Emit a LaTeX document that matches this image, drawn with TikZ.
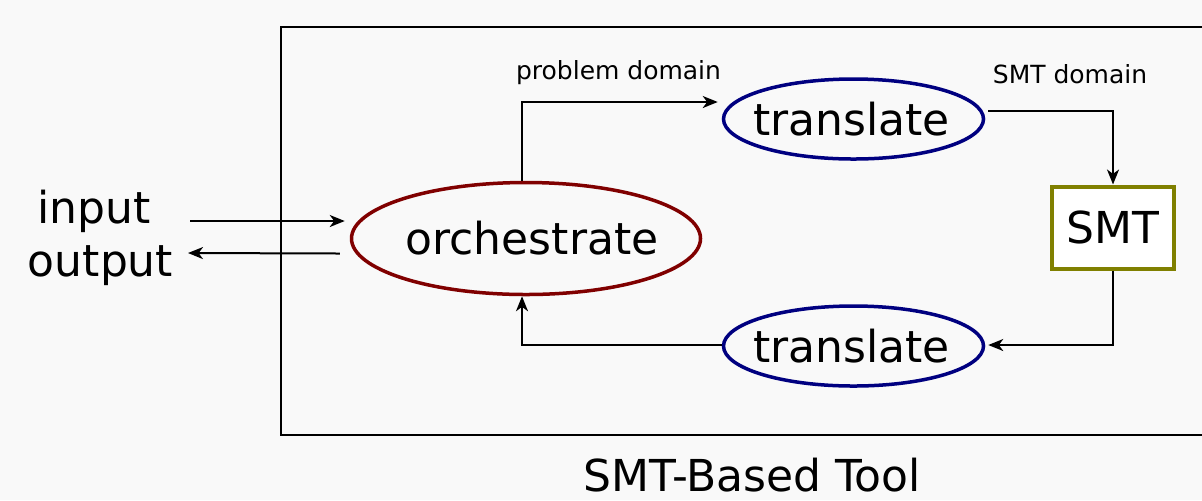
\documentclass[tikz,border=0pt]{standalone}
\usepackage{fontspec}
\setmainfont{DejaVu Sans}
\usetikzlibrary{arrows.meta,calc,shapes.geometric}
\definecolor{bg}{HTML}{F9F9F9}
\definecolor{dred}{HTML}{800000}
\definecolor{navy}{HTML}{000080}
\definecolor{olivec}{HTML}{808000}
\tikzset{
  big/.style={font=\fontsize{22}{26}\selectfont},
  small/.style={font=\fontsize{12.5}{15}\selectfont},
  ell/.style={ellipse, draw, line width=1.75pt, inner sep=0pt, big},
  arr/.style={line width=1pt, -{Stealth[length=7.5pt,width=6pt,inset=2.2pt]}},
}
\begin{document}
\begin{tikzpicture}[x=0.5pt,y=-0.5pt]
\useasboundingbox (0,0) rectangle (1202,500);
\fill[bg] (0,0) rectangle (1202,500);
\clip (0,0) rectangle (1202,500);
\draw[line width=1pt] (281,27) rectangle (1230,435);
\node[ell, dred, minimum width=174.5pt, minimum height=56pt, text=black] (o) at (526,238.5) {\makebox[0pt]{\hspace*{6pt}orchestrate}};
\node[ell, navy, minimum width=130pt, minimum height=40pt, text=black] (t1) at (853.5,119) {\makebox[0pt]{\hspace*{-2pt}translate}};
\node[ell, navy, minimum width=130pt, minimum height=40pt, text=black] (t2) at (853.5,346) {\makebox[0pt]{\hspace*{-2pt}translate}};
\node[draw=olivec, fill=white, line width=2pt, minimum width=61pt, minimum height=41pt, inner sep=0pt, big] (s) at (1113,227.5) {SMT};
\node[big, anchor=base] (in) at (94,223) {input};
\node[big, anchor=base] (out) at (100.5,276) {output};
\node[big, anchor=base, inner sep=0pt] (title) at (752,491) {SMT-Based Tool};
\node[small, anchor=base] (pd) at (618.5,79) {problem domain};
\node[small, anchor=base] (sd) at (1070,83) {SMT domain};
\coordinate (ia) at (190,221);
\coordinate (ob) at (188,253);
\draw[arr] (ia) -- ($(o.west)+(-5,-17.5)$);
\draw[arr] ($(o.west)+(-10,15)$) -- (ob);
\draw[arr] ($(o.north)+(-4,0)$) |- ($(t1.west)+(-4,-17)$);
\draw[arr] ($(t1.east)+(3,-8)$) -| (s.north);
\draw[arr] (s.south) |- ($(t2.east)+(3,-1)$);
\draw[arr] ($(t2.west)+(0,-1)$) -| ($(o.south)+(-4,0)$);
\end{tikzpicture}
\end{document}
